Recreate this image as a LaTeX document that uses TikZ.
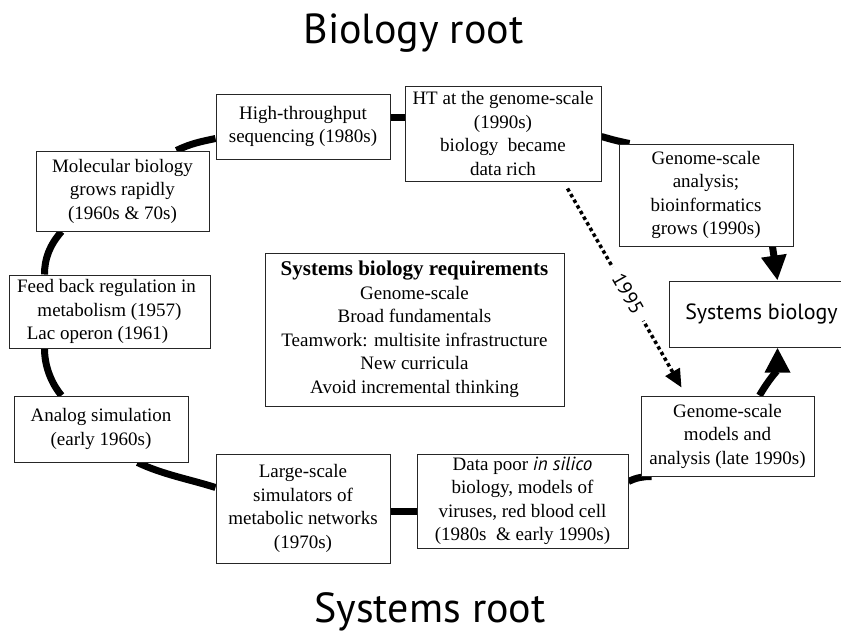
\documentclass[tikz,border=0pt]{standalone}
\usepackage{fontspec}
\setmainfont{Liberation Serif}
\newfontfamily\sansf{PT Sans}
\usetikzlibrary{calc,arrows.meta,backgrounds}
\begin{document}
\begin{tikzpicture}[x=1pt,y=-1pt,
  box/.style={draw=black!85, line width=1pt, fill=white, inner sep=0pt, align=center,
              font=\fontsize{19}{23.5}\selectfont},
  titletext/.style={font=\sansf\fontsize{42}{42}\selectfont, anchor=base, inner sep=0pt},
  link/.style={line width=7pt, black},
  arrowlink/.style={link, -{Triangle[length=25pt,width=24pt]}},
  dotlink/.style={line width=3.5pt, dash pattern=on 3.5pt off 3pt, -{Triangle[length=18pt,width=16pt]}}
]
\useasboundingbox (0,0) rectangle (841,630);

\node[titletext] (t1) at (413.5,43) {Biology root};
\node[titletext] (t2) at (430,622) {Systems root};

\node[box, minimum width=174pt, minimum height=65pt] (ht1) at (303,126.5)
  {High-throughput\\sequencing (1980s)};
\node[box, minimum width=196pt, minimum height=95pt] (ht2) at (503,133.5)
  {HT at the genome-scale\\(1990s)\\biology\ \ became\\data rich};
\node[box, minimum width=174pt, minimum height=102pt] (gsa) at (706,195)
  {Genome-scale\\analysis;\\bioinformatics\\grows (1990s)};
\node[box, minimum width=185pt, minimum height=66pt, font=\sansf\fontsize{22}{26}\selectfont] (sb) at (761.5,314)
  {Systems biology};
\node[box, minimum width=173pt, minimum height=80pt] (mol) at (122.5,191)
  {Molecular biology\\grows rapidly\\(1960s \& 70s)};
\node[box, minimum width=201pt, minimum height=73pt] (feed) at (109.5,311.5)
  {Feed back regulation in\hspace*{6pt}\\metabolism (1957)\hspace*{34pt}\\Lac operon (1961)\hspace*{24pt}};
\node[box, minimum width=174pt, minimum height=66pt] (ana) at (101,429)
  {Analog simulation\\(early 1960s)};
\node[box, minimum width=174pt, minimum height=109pt] (ls) at (303,508.5)
  {Large-scale\\simulators of\\metabolic networks\\(1970s)};
\node[box, minimum width=211pt, minimum height=94pt] (dp) at (522.5,501)
  {Data poor {\sansf\itshape in silico}\\biology, models of\\viruses, red blood cell\\(1980s\ \ \& early 1990s)};
\node[box, minimum width=173pt, minimum height=80pt] (gsm) at (727.5,436)
  {Genome-scale\\models and\\analysis (late 1990s)};
\node[box, minimum width=299pt, minimum height=153pt] (req) at (414.5,329.5)
  {{\bfseries\fontsize{21}{23.5}\selectfont Systems biology requirements}\\Genome-scale\\Broad fundamentals\\Teamwork: multisite infrastructure\\New curricula\\Avoid incremental thinking};

\begin{pgfonlayer}{background}
\draw[link] ($(mol.north west)+(141,0)$) .. controls +(14,-7) and +(-14,3) .. ($(ht1.south west)+(0,-21)$);
\draw[link] ($(ht1.north east)+(0,24)$) -- ($(ht2.north west)+(0,32)$);
\draw[link] ($(ht2.north east)+(0,51)$) .. controls +(10,3) and +(-10,-2) .. ($(gsa.north west)+(11,0)$);
\draw[arrowlink] ($(gsa.south west)+(154,0)$) -- ($(sb.north west)+(109,0)$);
\draw[link] ($(mol.south west)+(26,0)$) .. controls +(-12,14) and +(0,-16) .. ($(feed.north west)+(36,0)$);
\draw[link] ($(feed.south west)+(36,0)$) .. controls +(0,18) and +(-10,-12) .. ($(ana.north west)+(48,0)$);
\draw[link] ($(ana.south west)+(124,0)$) .. controls +(25,12) and +(-25,-8) .. ($(ls.north west)+(0,34)$);
\draw[link] ($(ls.north east)+(0,58)$) -- ($(dp.north west)+(0,58)$);
\draw[link] ($(dp.north east)+(0,28)$) .. controls +(8,-4) and +(-8,0) .. ($(gsm.south west)+(11,0)$);
\draw[arrowlink] ($(gsm.north west)+(119,0)$) .. controls +(8,-14) and +(0,22) .. ($(sb.south west)+(109,0)$);
\end{pgfonlayer}

\draw[dotlink] ($(ht2.south west)+(163,7)$) -- ($(gsm.north west)+(41,-8)$)
  node[pos=0.53, sloped, fill=white, inner xsep=9pt, inner ysep=1pt, font=\sansf\fontsize{20}{20}\selectfont] (yr) {1995};
\end{tikzpicture}
\end{document}
